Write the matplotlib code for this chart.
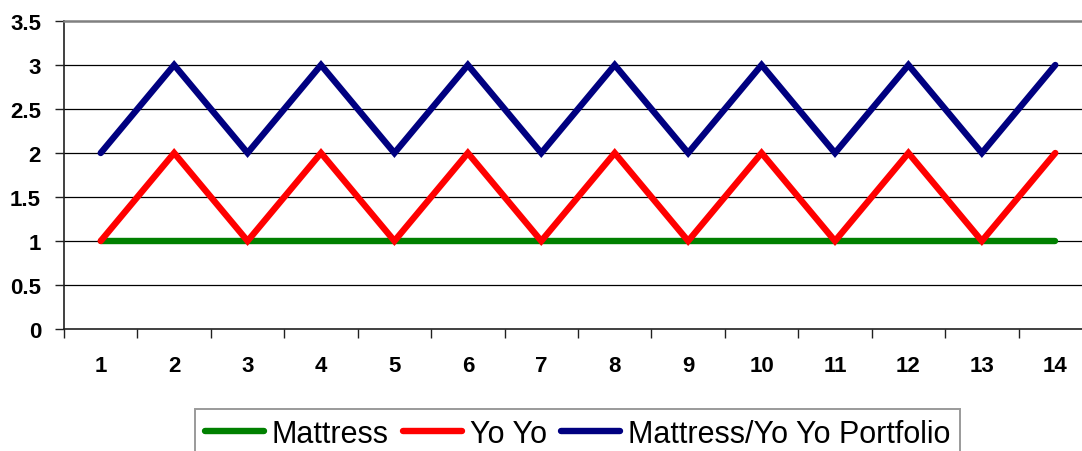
import numpy as np
import matplotlib
matplotlib.use("Agg")
import matplotlib.pyplot as plt
from matplotlib.ticker import FixedLocator, NullFormatter

periods = list(range(1, 15))
mattress = [1] * 14
yoyo = [1, 2, 1, 2, 1, 2, 1, 2, 1, 2, 1, 2, 1, 2]
portfolio = [2, 3, 2, 3, 2, 3, 2, 3, 2, 3, 2, 3, 2, 3]
y_ticks = [0, 0.5, 1, 1.5, 2, 2.5, 3, 3.5]
y_labels = ["0", "0.5", "1", "1.5", "2", "2.5", "3", "3.5"]

W, H = 1082, 452
fig = plt.figure(figsize=(W / 100, H / 100), dpi=100)
fig.patch.set_facecolor("white")

left, right, top, bottom = 64, 1092, 22, 330
ax = fig.add_axes([left / W, (H - bottom) / H, (right - left) / W, (bottom - top) / H])

line_kw = dict(lw=4.6, solid_capstyle="round", solid_joinstyle="miter")
ax.plot(periods, mattress, color="#008000", label="Mattress", zorder=3, **line_kw)
ax.plot(periods, yoyo, color="#FF0000", label="Yo Yo", zorder=4, **line_kw)
ax.plot(periods, portfolio, color="#000080", label="Mattress/Yo Yo Portfolio", zorder=5, **line_kw)

ax.set_xlim(0.5, 14.5)
ax.set_ylim(0, 3.5)

# horizontal gridlines
for v in y_ticks[1:-1]:
    ax.axhline(v, color="black", lw=0.9, zorder=1)

ax.spines["right"].set_visible(False)
ax.spines["top"].set_color("#808080")
ax.spines["top"].set_linewidth(1.8)
for s in ["left", "bottom"]:
    ax.spines[s].set_color("#202020")
    ax.spines[s].set_linewidth(1.2)

bold = dict(family=["Liberation Sans", "DejaVu Sans"], weight="bold", size=16)

ax.set_yticks(y_ticks)
ax.set_yticklabels(y_labels, fontdict=bold)
ax.tick_params(axis="y", direction="out", length=6.5, width=1, color="#202020", pad=10)

ax.set_xticks(periods)
ax.set_xticklabels([str(p) for p in periods], fontdict=bold)
ax.tick_params(axis="x", which="major", length=0, pad=19)
ax.xaxis.set_minor_locator(FixedLocator(np.arange(0.5, 15, 1.0)))
ax.xaxis.set_minor_formatter(NullFormatter())
ax.tick_params(axis="x", which="minor", direction="out", length=6.5, width=1, color="#202020")

handles, labels = ax.get_legend_handles_labels()
leg = fig.legend(handles, labels, loc="upper left",
                 bbox_to_anchor=(195 / W, 1 - 410 / H),
                 ncol=3, frameon=True, fancybox=False,
                 prop=dict(family=["Liberation Sans", "DejaVu Sans"], size=22),
                 handlelength=1.95, handletextpad=0.25, columnspacing=0.45,
                 borderaxespad=0, borderpad=0.32)
leg.get_frame().set_edgecolor("#808080")
leg.get_frame().set_linewidth(1.4)

fig.savefig("out.png", dpi=100, facecolor="white")
